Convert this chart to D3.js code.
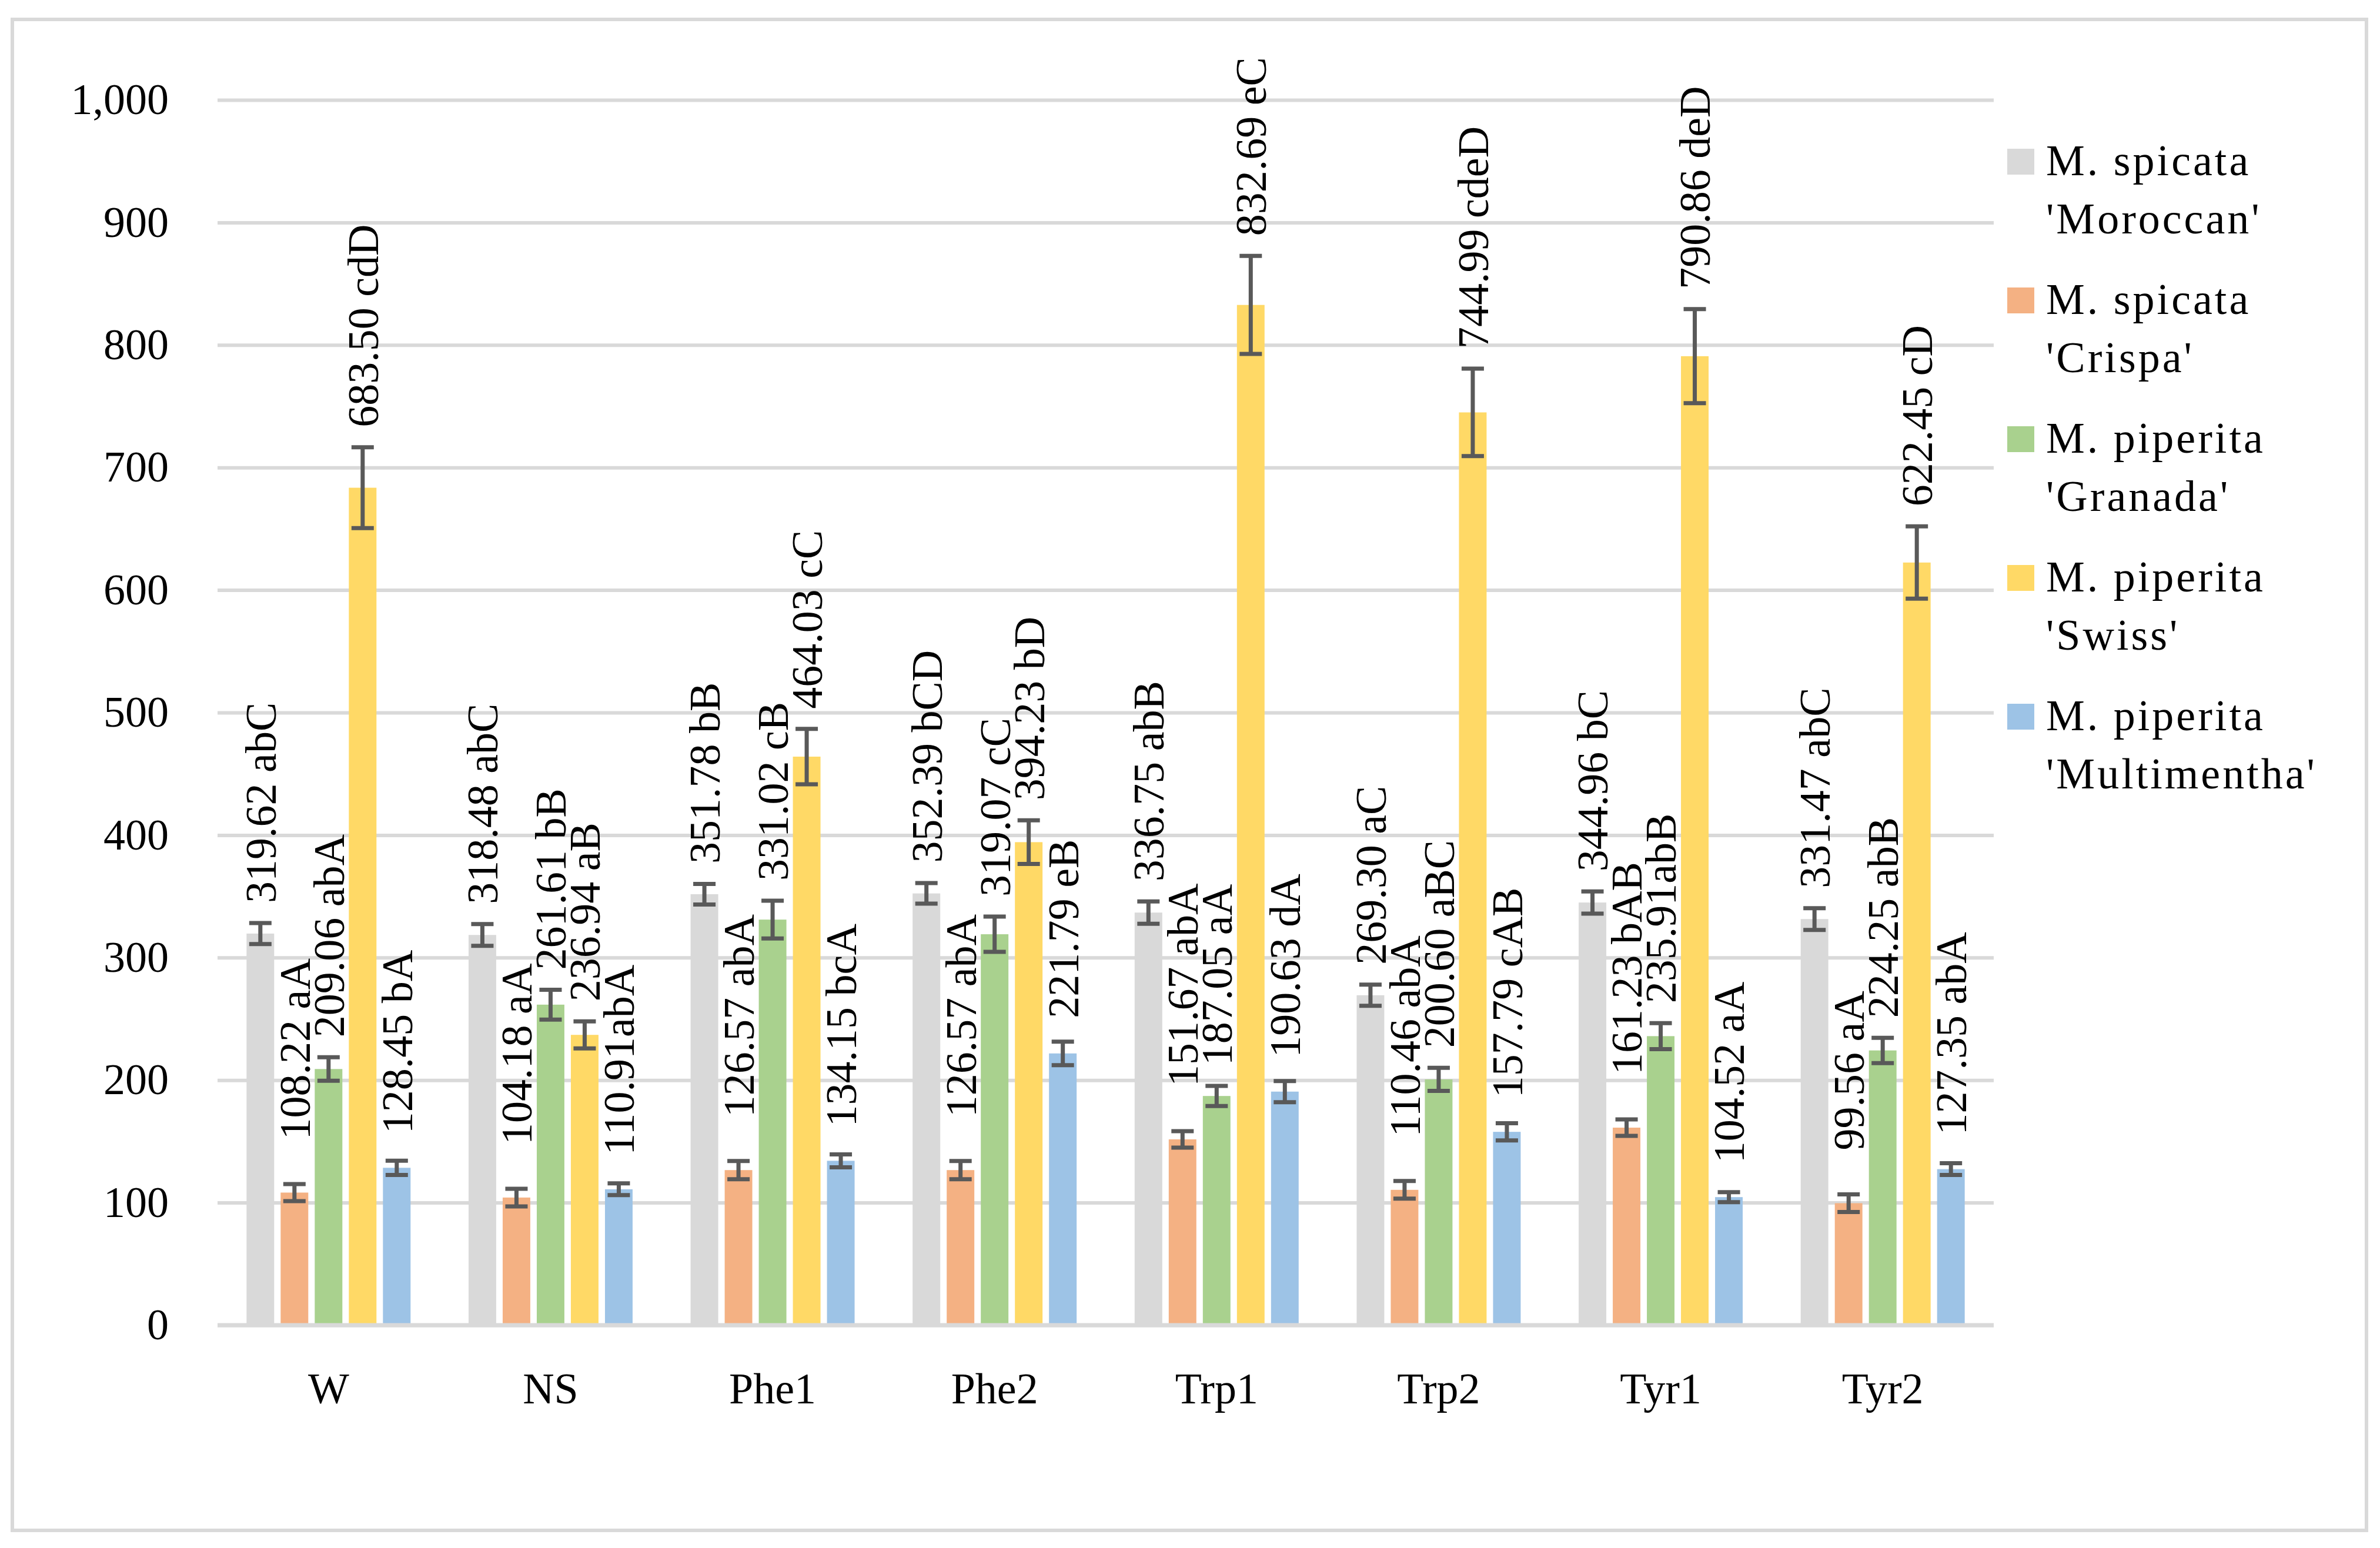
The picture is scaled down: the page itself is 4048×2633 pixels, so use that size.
<!DOCTYPE html>
<html>
<head>
<meta charset="utf-8">
<script src="https://cdn.jsdelivr.net/npm/d3@7"></script>
<style>
	body { margin: 0; background: #fff; }
	text { font-family: "Palatino Linotype", "Book Antiqua", Palatino, "Liberation Serif", serif; fill: #000; }
</style>
</head>
<body>
<svg id="chart"></svg>
<script>
(function(){

	//Chart data
	var categories = ["W", "NS", "Phe1", "Phe2", "Trp1", "Trp2", "Tyr1", "Tyr2"];
	var seriesNames = ["M. spicata 'Moroccan'", "M. spicata 'Crispa'", "M. piperita 'Granada'", "M. piperita 'Swiss'", "M. piperita 'Multimentha'"];

	var moroccan    = [319.62, 318.48, 351.78, 352.39, 336.75, 269.30, 344.96, 331.47];
	var crispa      = [108.22, 104.18, 126.57, 126.57, 151.67, 110.46, 161.23, 99.56];
	var granada     = [209.06, 261.61, 331.02, 319.07, 187.05, 200.60, 235.91, 224.25];
	var swiss       = [683.50, 236.94, 464.03, 394.23, 832.69, 744.99, 790.86, 622.45];
	var multimentha = [128.45, 110.91, 134.15, 221.79, 190.63, 157.79, 104.52, 127.35];

	//error bar half-lengths
	var moroccanErr    = [8.6, 8.9, 8.4, 8.4, 9.1, 8.6, 9.1, 8.9];
	var crispaErr      = [7.0, 7.2, 7.4, 7.4, 6.7, 7.2, 6.7, 7.2];
	var granadaErr     = [9.6, 12.2, 15.4, 14.4, 8.2, 9.4, 10.6, 10.3];
	var swissErr       = [33, 11, 22.6, 17.8, 40, 35.7, 38.4, 29.5];
	var multimenthaErr = [5.8, 4.8, 5.3, 9.6, 8.6, 7.0, 4.1, 4.8];

	var moroccanLabels    = ["319.62 abC", "318.48 abC", "351.78 bB", "352.39 bCD", "336.75 abB", "269.30 aC", "344.96 bC", "331.47 abC"];
	var crispaLabels      = ["108.22 aA", "104.18 aA", "126.57 abA", "126.57 abA", "151.67 abA", "110.46 abA", "161.23 bAB", "99.56 aA"];
	var granadaLabels     = ["209.06 abA", "261.61 bB", "331.02 cB", "319.07 cC", "187.05 aA", "200.60 aBC", "235.91abB", "224.25 abB"];
	var swissLabels       = ["683.50 cdD", "236.94 aB", "464.03 cC", "394.23 bD", "832.69 eC", "744.99 cdeD", "790.86 deD", "622.45 cD"];
	var multimenthaLabels = ["128.45 bA", "110.91abA", "134.15 bcA", "221.79 eB", "190.63 dA", "157.79 cAB", "104.52 aA", "127.35 abA"];

	var yTicks = [0, 100, 200, 300, 400, 500, 600, 700, 800, 900, 1000];

	//Style configuration
	var svgWidth = 4048;
	var svgHeight = 2633;
	var colors = ["#d9d9d9", "#f4b183", "#a9d18e", "#ffd966", "#9dc3e6"];
	var gridColor = "#d9d9d9";
	var errColor = "#595959";
	var fontSize = 74;
	var plotLeft = 370, plotRight = 3391, plotTop = 170, plotBottom = 2254;
	var labelLift = [0, 38, 0, 0, 6];	//extra gap of each series' labels

	var values = [moroccan, crispa, granada, swiss, multimentha];
	var errors = [moroccanErr, crispaErr, granadaErr, swissErr, multimenthaErr];
	var labels = [moroccanLabels, crispaLabels, granadaLabels, swissLabels, multimenthaLabels];

	var svg = d3.select("#chart")
	.attr("width", svgWidth)
	.attr("height", svgHeight);

	svg.append("rect")
	.attr("width", svgWidth).attr("height", svgHeight)
	.attr("fill", "#fff");

	//outer frame
	svg.append("rect")
	.attr("x", 21).attr("y", 33)
	.attr("width", 4004).attr("height", 2570)
	.attr("fill", "none")
	.attr("stroke", gridColor)
	.attr("stroke-width", 6);

	var x0 = d3.scaleBand().domain(categories).range([plotLeft, plotRight]).padding(0);
	var x1 = d3.scaleBand().domain(d3.range(seriesNames.length)).range([-145, 145])
	.paddingInner(0.19).paddingOuter(0.095);
	var y = d3.scaleLinear().domain([0, 1000]).range([plotBottom, plotTop]);

	//y axis + gridlines
	var yAxis = svg.append("g")
	.attr("transform", "translate(" + plotLeft + ",0)")
	.call(d3.axisLeft(y).tickValues(yTicks).tickFormat(d3.format(","))
		.tickSizeInner(-(plotRight - plotLeft)).tickSizeOuter(0).tickPadding(83));
	yAxis.select(".domain").remove();
	yAxis.selectAll(".tick line").attr("stroke", gridColor).attr("stroke-width", 6);
	yAxis.selectAll(".tick text")
	.attr("font-size", fontSize)
	.attr("font-family", null)
	.attr("fill", "#000");

	//category axis
	var xAxis = svg.append("g")
	.attr("transform", "translate(0," + plotBottom + ")")
	.call(d3.axisBottom(x0).tickSize(0).tickPadding(80));
	xAxis.select(".domain").remove();
	xAxis.selectAll(".tick text")
	.attr("font-size", fontSize)
	.attr("font-family", null)
	.attr("fill", "#000");

	//flatten into one list of bars
	var bars = [];
	values.forEach(function(series, j){
		categories.forEach(function(c, i){
			bars.push({cat: c, s: j, v: series[i], e: errors[j][i], label: labels[j][i]});
		});
	});

	function barCenter(d){ return x0(d.cat) + x0.bandwidth() / 2 + x1(d.s) + x1.bandwidth() / 2; }

	svg.append("g").selectAll("rect")
	.data(bars)
	.enter()
	.append("rect")
	.attr("x", function(d){ return x0(d.cat) + x0.bandwidth() / 2 + x1(d.s); })
	.attr("y", function(d){ return y(d.v); })
	.attr("width", x1.bandwidth())
	.attr("height", function(d){ return y(0) - y(d.v); })
	.attr("fill", function(d){ return colors[d.s]; });

	//baseline
	svg.append("line")
	.attr("x1", plotLeft).attr("x2", plotRight)
	.attr("y1", y(0)).attr("y2", y(0))
	.attr("stroke", gridColor)
	.attr("stroke-width", 7);

	//error bars
	var capHalf = 19;
	var err = svg.append("g")
	.attr("stroke", errColor)
	.attr("stroke-width", 7)
	.selectAll("g")
	.data(bars)
	.enter()
	.append("g");
	err.append("line")
	.attr("x1", barCenter).attr("x2", barCenter)
	.attr("y1", function(d){ return y(d.v + d.e); })
	.attr("y2", function(d){ return y(d.v - d.e); });
	err.append("line")
	.attr("x1", function(d){ return barCenter(d) - capHalf; })
	.attr("x2", function(d){ return barCenter(d) + capHalf; })
	.attr("y1", function(d){ return y(d.v + d.e); })
	.attr("y2", function(d){ return y(d.v + d.e); });
	err.append("line")
	.attr("x1", function(d){ return barCenter(d) - capHalf; })
	.attr("x2", function(d){ return barCenter(d) + capHalf; })
	.attr("y1", function(d){ return y(d.v - d.e); })
	.attr("y2", function(d){ return y(d.v - d.e); });

	//rotated value labels
	svg.append("g").selectAll("text")
	.data(bars)
	.enter()
	.append("text")
	.attr("transform", function(d){
		var errPx = y(d.v) - y(d.v + d.e);
		var gap = Math.max(52, errPx + 34) + labelLift[d.s];
		return "translate(" + barCenter(d) + "," + (y(d.v) - gap) + ") rotate(-90)";
	})
	.attr("dy", "0.35em")
	.attr("text-anchor", "start")
	.attr("font-size", fontSize)
	.text(function(d){ return d.label; });

	//legend
	var legend = svg.append("g").selectAll("g")
	.data(seriesNames)
	.enter()
	.append("g")
	.attr("transform", function(d, i){ return "translate(3414," + (275 + i * 236) + ")"; });
	legend.append("rect")
	.attr("x", 0).attr("y", -22)
	.attr("width", 46).attr("height", 44)
	.attr("fill", function(d, i){ return colors[i]; });
	legend.append("text")
	.attr("x", 66)
	.attr("y", 23)
	.attr("font-size", fontSize)
	.attr("letter-spacing", 4)
	.each(function(d){
		var cut = d.indexOf(" '");
		var t = d3.select(this);
		t.append("tspan").attr("x", 66).attr("dy", 0).text(d.slice(0, cut));
		t.append("tspan").attr("x", 66).attr("dy", 99).text(d.slice(cut + 1));
	});

})();
</script>
</body>
</html>
